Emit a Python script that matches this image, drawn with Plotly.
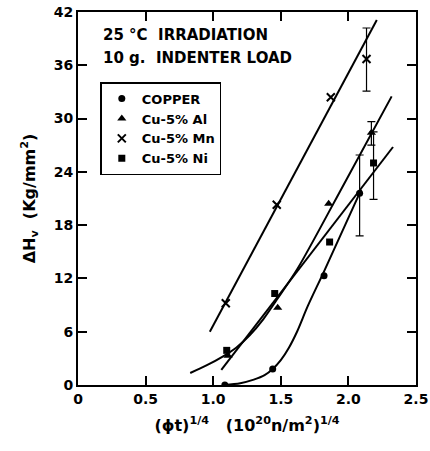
import plotly.graph_objects as go

# ---- data ----
x_ticks = [0, 0.5, 1.0, 1.5, 2.0, 2.5]
x_tick_labels = ["0", "0.5", "1.0", "1.5", "2.0", "2.5"]
y_ticks = [0, 6, 12, 18, 24, 30, 36, 42]

cu_x = [1.086, 1.44, 1.82]
cu_y = [0.0, 1.8, 12.3]
cu_err_x = [2.083]
cu_err_y = [21.6]
cu_err_plus = [4.3]
cu_err_minus = [4.8]

al_x = [1.11, 1.477, 1.854]
al_y = [3.3, 8.7, 20.4]
al_err_x = [2.17]
al_err_y = [28.4]
al_err_plus = [1.25]
al_err_minus = [1.4]

mn_x = [1.093, 1.47, 1.87]
mn_y = [9.2, 20.3, 32.4]
mn_err_x = [2.134]
mn_err_y = [36.7]
mn_err_plus = [3.5]
mn_err_minus = [3.6]

ni_x = [1.10, 1.455, 1.861]
ni_y = [3.9, 10.3, 16.1]
ni_err_x = [2.186]
ni_err_y = [25.0]
ni_err_plus = [3.5]
ni_err_minus = [4.1]

# fitted curves drawn in the figure
cu_curve_x = [1.08, 1.2, 1.3, 1.38, 1.44, 1.5, 1.56, 1.62, 1.7, 1.82, 2.095]
cu_curve_y = [0.0, 0.2, 0.6, 1.1, 1.8, 2.8, 4.2, 6.0, 8.9, 12.8, 22.0]
al_curve_x = [0.83, 0.95, 1.07, 1.17, 1.27, 1.37, 1.47, 1.62, 1.97, 2.32]
al_curve_y = [1.35, 2.2, 3.2, 4.2, 5.6, 7.4, 9.6, 13.0, 22.7, 32.5]
ni_line_x = [1.06, 2.33]
ni_line_y = [1.7, 26.8]
mn_line_x = [0.975, 2.21]
mn_line_y = [6.0, 41.1]

series_names = ["COPPER", "Cu-5% Al", "Cu-5% Mn", "Cu-5% Ni"]
note_lines = ["25 °C  IRRADIATION", "10 g.  INDENTER LOAD"]

BLACK = "black"
FONT = "DejaVu Sans"

fig = go.Figure()

# curves
for cx, cy in [(cu_curve_x, cu_curve_y), (al_curve_x, al_curve_y),
               (ni_line_x, ni_line_y), (mn_line_x, mn_line_y)]:
    fig.add_trace(go.Scatter(x=cx, y=cy, mode="lines",
                             line=dict(color=BLACK, width=2, shape="spline", smoothing=0.8),
                             showlegend=False, hoverinfo="skip"))

markers = [
    dict(symbol="circle", size=7, color=BLACK),
    dict(symbol="triangle-up", size=8, color=BLACK),
    dict(symbol="x-thin", size=8, color=BLACK, line=dict(color=BLACK, width=2)),
    dict(symbol="square", size=7, color=BLACK),
]
pts = [(cu_x, cu_y), (al_x, al_y), (mn_x, mn_y), (ni_x, ni_y)]
errs = [(cu_err_x, cu_err_y, cu_err_plus, cu_err_minus),
        (al_err_x, al_err_y, al_err_plus, al_err_minus),
        (mn_err_x, mn_err_y, mn_err_plus, mn_err_minus),
        (ni_err_x, ni_err_y, ni_err_plus, ni_err_minus)]

for name, mk, (px, py), (ex, ey, ep, em) in zip(series_names, markers, pts, errs):
    fig.add_trace(go.Scatter(x=px, y=py, mode="markers", name=name, marker=mk))
    fig.add_trace(go.Scatter(x=ex, y=ey, mode="markers", marker=mk, showlegend=False,
                             error_y=dict(type="data", symmetric=False, array=ep,
                                          arrayminus=em, color=BLACK, thickness=1.2, width=4)))

axis_common = dict(showline=True, linecolor=BLACK, linewidth=2, mirror="ticks",
                   ticks="inside", ticklen=9, tickwidth=1.5, tickcolor=BLACK,
                   showgrid=False, zeroline=False, automargin=False,
                   tickfont=dict(family=FONT, size=14, color=BLACK, weight="bold"))

fig.update_xaxes(range=[0, 2.5], tickvals=x_ticks, ticktext=x_tick_labels,
                 title=dict(text="(ϕt)<sup>1/4</sup>   (10<sup>20</sup>n/m<sup>2</sup>)<sup>1/4</sup>",
                            font=dict(family=FONT, size=16, color=BLACK, weight="bold"),
                            standoff=14),
                 **axis_common)
fig.update_yaxes(range=[0, 42], tickvals=y_ticks,
                 title=dict(text="ΔH<sub>v</sub>  (Kg/mm<sup>2</sup>)",
                            font=dict(family=FONT, size=16, color=BLACK, weight="bold"),
                            standoff=14),
                 **axis_common)

for i, line in enumerate(note_lines):
    fig.add_annotation(xref="paper", yref="paper", x=0.068, y=0.938 - i * 0.062,
                       xanchor="left", yanchor="middle", showarrow=False,
                       text=line,
                       font=dict(family=FONT, size=15, color=BLACK, weight="bold"))

fig.update_layout(
    width=430, height=451,
    margin=dict(l=78, r=14, t=12, b=66),
    paper_bgcolor="white", plot_bgcolor="white",
    legend=dict(x=0.066, y=0.812, xanchor="left", yanchor="top",
                bordercolor=BLACK, borderwidth=1.5, bgcolor="white",
                font=dict(family=FONT, size=13, color=BLACK, weight="bold"),
                itemwidth=30, tracegroupgap=0),
    font=dict(family=FONT, color=BLACK),
)

fig.write_html("out.html")
